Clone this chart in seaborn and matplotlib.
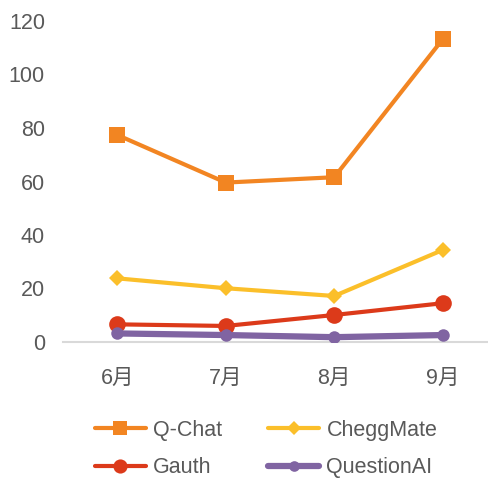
import pandas as pd
import seaborn as sns
import matplotlib.pyplot as plt

months = ["6月", "7月", "8月", "9月"]
qchat = [77.4, 59.6, 61.6, 113.2]
cheggmate = [23.8, 20.1, 17.2, 34.4]
gauth = [6.6, 6.0, 10.1, 14.5]
questionai = [3.2, 2.6, 1.8, 2.6]

series = {"Q-Chat": qchat, "CheggMate": cheggmate, "Gauth": gauth, "QuestionAI": questionai}
rows = []
for name, vals in series.items():
    for i, v in enumerate(vals):
        rows.append({"month": i, "value": v, "series": name})
df = pd.DataFrame(rows)

sns.set_style("white")
plt.rcParams['font.family'] = ['Liberation Sans', 'Noto Sans CJK SC', 'DejaVu Sans']

styles = {
    "Q-Chat": dict(color="#F28522", marker="s", markersize=12, linewidth=3),
    "CheggMate": dict(color="#FBBF2A", marker="D", markersize=8, linewidth=3),
    "Gauth": dict(color="#DC3A1A", marker="o", markersize=12, linewidth=3),
    "QuestionAI": dict(color="#8064A2", marker="o", markersize=9, linewidth=4.5),
}

fig = plt.figure(figsize=(4.88, 4.78), dpi=100)
ax = fig.add_axes([63 / 488, 1 - 342 / 478, 1 - 63 / 488, (342 - 21) / 478])

handles = {}
for name in series:
    st = styles[name]
    sns.lineplot(data=df[df["series"] == name], x="month", y="value", ax=ax,
                 color=st["color"], marker=st["marker"], markersize=st["markersize"],
                 linewidth=st["linewidth"], markeredgewidth=0, label=name, legend=False)
    handles[name] = ax.lines[-1]

ax.set_xlim(-0.5, 3.417)
ax.set_ylim(0, 120)
ax.set_yticks([0, 20, 40, 60, 80, 100, 120])
ax.set_xticks(range(4))
ax.set_xticklabels(months)
ax.set_xlabel("")
ax.set_ylabel("")
ax.tick_params(axis="both", length=0, labelsize=15.5, colors="#595959")
ax.tick_params(axis="y", pad=13)
ax.tick_params(axis="x", pad=19)
for s in ["top", "right", "left"]:
    ax.spines[s].set_visible(False)
ax.spines["bottom"].set_color("#D9D9D9")
ax.spines["bottom"].set_linewidth(1.5)
ax.spines["bottom"].set_zorder(0)

order = ["Q-Chat", "Gauth", "CheggMate", "QuestionAI"]
leg = fig.legend([handles[n] for n in order], order, ncol=2, loc="center",
                 bbox_to_anchor=(0.545, 0.0607), frameon=False, fontsize=15.5,
                 handlelength=2.4, handletextpad=0.33, columnspacing=2.1,
                 labelspacing=0.75, markerscale=0.85, borderpad=0)
for t in leg.get_texts():
    t.set_color("#595959")

fig.savefig("out.png", dpi=100)
